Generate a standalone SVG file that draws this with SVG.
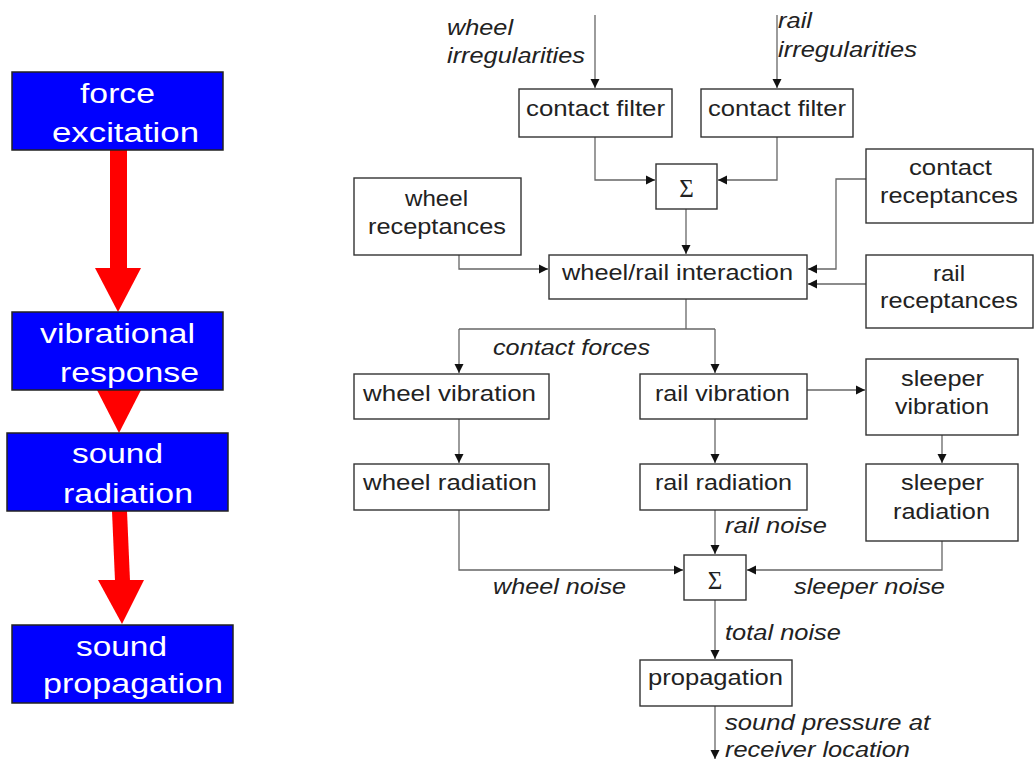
<svg xmlns="http://www.w3.org/2000/svg" width="1034" height="760" viewBox="0 0 1034 760">
<style>
.bb{fill:#0000FF;stroke:#222;stroke-width:1.5}
.bt{fill:#fff;font-family:"Liberation Sans",Arial,sans-serif;font-size:27px}
.red{fill:#FF0000}
.nb{fill:#fff;stroke:#333;stroke-width:1.4}
.t{fill:#222;font-family:"Liberation Sans",Arial,sans-serif;font-size:22px}
.i{fill:#222;font-family:"Liberation Sans",Arial,sans-serif;font-size:22px;font-style:italic}
.s{fill:#222;font-family:"Liberation Serif","DejaVu Serif",serif;font-size:25px}
.c{fill:none;stroke:#666;stroke-width:1.3}
</style>
<defs>
<marker id="ah" markerUnits="userSpaceOnUse" markerWidth="10" markerHeight="10" viewBox="0 0 10 10" refX="9" refY="5" orient="auto">
<path d="M0,0.5 L9,5 L0,9.5 z" fill="#111"/>
</marker>
</defs>
<rect width="1034" height="760" fill="#fff"/>

<g id="left-flow">
<g id="red-arrows">
<rect class="red" x="110" y="150" width="17" height="119"/>
<polygon class="red" points="95,268 141,268 118,312"/>
<polygon class="red" points="97,390 141,390 119,433"/>
<polygon class="red" points="112,511 127,511 130,581 115,581"/>
<polygon class="red" points="98,580 144,580 122,624"/>
</g>
<g id="force-excitation">
<rect class="bb" x="12" y="72" width="211" height="78"/>
<text class="bt" x="80" y="103" textLength="75" lengthAdjust="spacingAndGlyphs">force</text>
<text class="bt" x="52" y="142" textLength="147" lengthAdjust="spacingAndGlyphs">excitation</text>
</g>
<g id="vibrational-response">
<rect class="bb" x="12" y="312" width="211" height="78"/>
<text class="bt" x="40" y="343" textLength="155" lengthAdjust="spacingAndGlyphs">vibrational</text>
<text class="bt" x="60" y="382" textLength="139" lengthAdjust="spacingAndGlyphs">response</text>
</g>
<g id="sound-radiation">
<rect class="bb" x="7" y="433" width="221" height="78"/>
<text class="bt" x="72" y="463" textLength="91" lengthAdjust="spacingAndGlyphs">sound</text>
<text class="bt" x="63" y="503" textLength="130" lengthAdjust="spacingAndGlyphs">radiation</text>
</g>
<g id="sound-propagation">
<rect class="bb" x="12" y="625" width="221" height="78"/>
<text class="bt" x="76" y="656" textLength="91" lengthAdjust="spacingAndGlyphs">sound</text>
<text class="bt" x="43" y="693" textLength="180" lengthAdjust="spacingAndGlyphs">propagation</text>
</g>
</g>

<g id="connectors">
<path class="c" d="M595,15 V88" marker-end="url(#ah)"/>
<path class="c" d="M777,15 V88" marker-end="url(#ah)"/>
<path class="c" d="M595,137 V180 H655" marker-end="url(#ah)"/>
<path class="c" d="M777,137 V180 H718" marker-end="url(#ah)"/>
<path class="c" d="M686,209 V254" marker-end="url(#ah)"/>
<path class="c" d="M459,255 V269 H548" marker-end="url(#ah)"/>
<path class="c" d="M866,179 H836 V269 H808" marker-end="url(#ah)"/>
<path class="c" d="M866,284 H808" marker-end="url(#ah)"/>
<path class="c" d="M686,299 V329"/>
<path class="c" d="M459,329 H715"/>
<path class="c" d="M459,329 V373" marker-end="url(#ah)"/>
<path class="c" d="M715,329 V373" marker-end="url(#ah)"/>
<path class="c" d="M807,390 H865" marker-end="url(#ah)"/>
<path class="c" d="M459,419 V463" marker-end="url(#ah)"/>
<path class="c" d="M715,419 V463" marker-end="url(#ah)"/>
<path class="c" d="M942,435 V463" marker-end="url(#ah)"/>
<path class="c" d="M715,510 V554" marker-end="url(#ah)"/>
<path class="c" d="M459,510 V570 H683" marker-end="url(#ah)"/>
<path class="c" d="M942,541 V570 H747" marker-end="url(#ah)"/>
<path class="c" d="M715,600 V659" marker-end="url(#ah)"/>
<path class="c" d="M715,706 V759" marker-end="url(#ah)"/>
</g>

<g id="labels">
<text class="i" x="447" y="35" textLength="66" lengthAdjust="spacingAndGlyphs">wheel</text>
<text class="i" x="447" y="63" textLength="138" lengthAdjust="spacingAndGlyphs">irregularities</text>
<text class="i" x="778" y="28" textLength="34" lengthAdjust="spacingAndGlyphs">rail</text>
<text class="i" x="778" y="57" textLength="139" lengthAdjust="spacingAndGlyphs">irregularities</text>
<text class="i" x="493" y="355" textLength="157" lengthAdjust="spacingAndGlyphs">contact forces</text>
<text class="i" x="725" y="533" textLength="102" lengthAdjust="spacingAndGlyphs">rail noise</text>
<text class="i" x="493" y="594" textLength="133" lengthAdjust="spacingAndGlyphs">wheel noise</text>
<text class="i" x="794" y="594" textLength="151" lengthAdjust="spacingAndGlyphs">sleeper noise</text>
<text class="i" x="725" y="640" textLength="116" lengthAdjust="spacingAndGlyphs">total noise</text>
<text class="i" x="725" y="730" textLength="205" lengthAdjust="spacingAndGlyphs">sound pressure at</text>
<text class="i" x="725" y="757" textLength="185" lengthAdjust="spacingAndGlyphs">receiver location</text>
</g>

<g id="contact-filter-wheel">
<rect class="nb" x="519" y="89" width="153" height="48"/>
<text class="t" x="526" y="116" textLength="139" lengthAdjust="spacingAndGlyphs">contact filter</text>
</g>
<g id="contact-filter-rail">
<rect class="nb" x="701" y="89" width="152" height="48"/>
<text class="t" x="708" y="116" textLength="138" lengthAdjust="spacingAndGlyphs">contact filter</text>
</g>
<g id="sum-1">
<rect class="nb" x="656" y="164" width="61" height="45"/>
<text class="s" x="686.5" y="197" text-anchor="middle">Σ</text>
</g>
<g id="wheel-receptances">
<rect class="nb" x="354" y="178" width="167" height="77"/>
<text class="t" x="405" y="206" textLength="63" lengthAdjust="spacingAndGlyphs">wheel</text>
<text class="t" x="368" y="234" textLength="138" lengthAdjust="spacingAndGlyphs">receptances</text>
</g>
<g id="contact-receptances">
<rect class="nb" x="866" y="149" width="167" height="74"/>
<text class="t" x="909" y="175" textLength="83" lengthAdjust="spacingAndGlyphs">contact</text>
<text class="t" x="880" y="203" textLength="138" lengthAdjust="spacingAndGlyphs">receptances</text>
</g>
<g id="wheel-rail-interaction">
<rect class="nb" x="549" y="255" width="258" height="44"/>
<text class="t" x="562" y="280" textLength="231" lengthAdjust="spacingAndGlyphs">wheel/rail interaction</text>
</g>
<g id="rail-receptances">
<rect class="nb" x="866" y="255" width="167" height="73"/>
<text class="t" x="933" y="281" textLength="32" lengthAdjust="spacingAndGlyphs">rail</text>
<text class="t" x="880" y="308" textLength="138" lengthAdjust="spacingAndGlyphs">receptances</text>
</g>
<g id="wheel-vibration">
<rect class="nb" x="354" y="374" width="195" height="45"/>
<text class="t" x="363" y="401" textLength="173" lengthAdjust="spacingAndGlyphs">wheel vibration</text>
</g>
<g id="rail-vibration">
<rect class="nb" x="640" y="374" width="167" height="45"/>
<text class="t" x="655" y="401" textLength="135" lengthAdjust="spacingAndGlyphs">rail vibration</text>
</g>
<g id="sleeper-vibration">
<rect class="nb" x="866" y="359" width="152" height="76"/>
<text class="t" x="901" y="386" textLength="83" lengthAdjust="spacingAndGlyphs">sleeper</text>
<text class="t" x="895" y="414" textLength="94" lengthAdjust="spacingAndGlyphs">vibration</text>
</g>
<g id="wheel-radiation">
<rect class="nb" x="354" y="464" width="195" height="46"/>
<text class="t" x="363" y="490" textLength="174" lengthAdjust="spacingAndGlyphs">wheel radiation</text>
</g>
<g id="rail-radiation">
<rect class="nb" x="640" y="464" width="167" height="46"/>
<text class="t" x="655" y="490" textLength="137" lengthAdjust="spacingAndGlyphs">rail radiation</text>
</g>
<g id="sleeper-radiation">
<rect class="nb" x="866" y="464" width="152" height="77"/>
<text class="t" x="901" y="490" textLength="83" lengthAdjust="spacingAndGlyphs">sleeper</text>
<text class="t" x="893" y="519" textLength="97" lengthAdjust="spacingAndGlyphs">radiation</text>
</g>
<g id="sum-2">
<rect class="nb" x="684" y="555" width="62" height="45"/>
<text class="s" x="715" y="589" text-anchor="middle">Σ</text>
</g>
<g id="propagation">
<rect class="nb" x="640" y="660" width="152" height="46"/>
<text class="t" x="648" y="685" textLength="135" lengthAdjust="spacingAndGlyphs">propagation</text>
</g>
</svg>
